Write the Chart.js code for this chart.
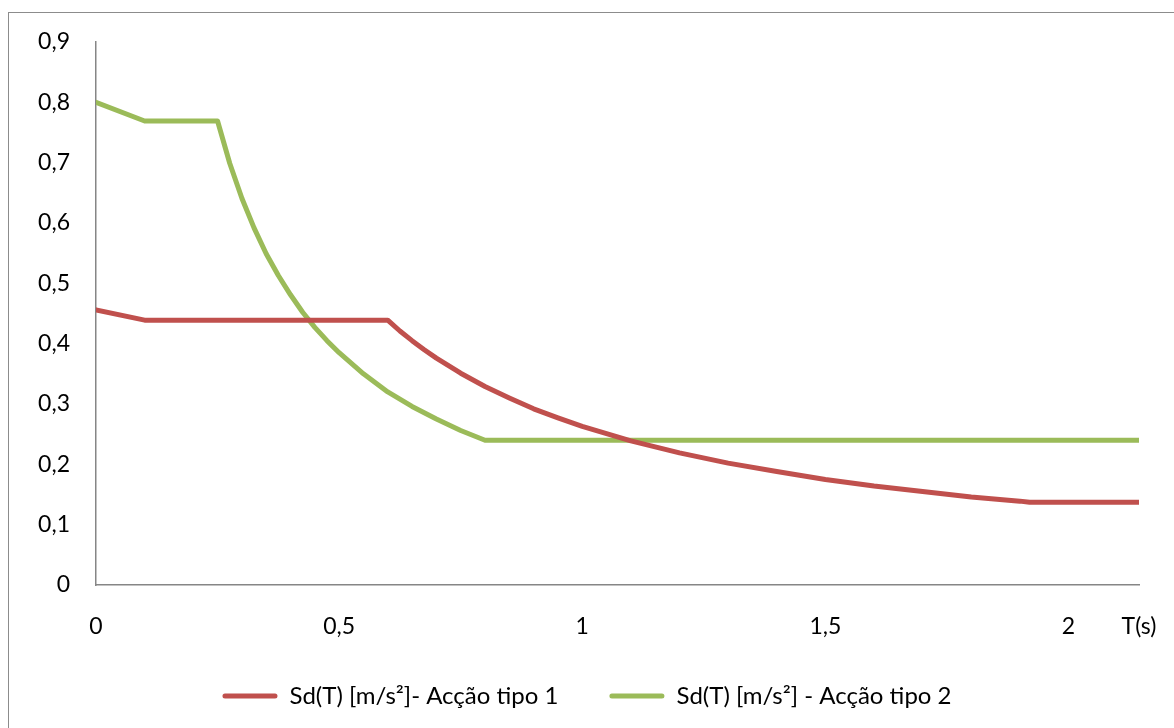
<!DOCTYPE html>
<html>
<head>
<meta charset="utf-8">
<script src="https://cdn.jsdelivr.net/npm/chart.js@4"></script>
<style>
  html, body { margin: 0; padding: 0; background: #fff; overflow: hidden; }
  .frame { position: absolute; left: 8px; top: 12px; width: 1300px; height: 900px; border: 1px solid #8c8c8c; }
  .chart { position: absolute; left: 0; top: 0; width: 1174px; height: 728px; }
</style>
</head>
<body>
<div class="frame"></div>
<div class="chart"><canvas id="myChart" width="1174" height="728"></canvas></div>
<script>
// periods T (s) and Sd(T) values
const tipo1T = [0, 0.1, 0.6, 0.625, 0.65, 0.675, 0.7, 0.75, 0.8, 0.85, 0.9, 0.95, 1.0, 1.1, 1.2, 1.3, 1.4, 1.5, 1.6, 1.7, 1.8, 1.9, 1.92, 2.145];
const tipo1Sd = [0.456, 0.439, 0.439, 0.421, 0.405, 0.390, 0.376, 0.351, 0.329, 0.310, 0.292, 0.277, 0.263, 0.239, 0.219, 0.202, 0.188, 0.175, 0.164, 0.155, 0.146, 0.139, 0.137, 0.137];

const tipo2T = [0, 0.1, 0.25, 0.275, 0.3, 0.325, 0.35, 0.375, 0.4, 0.425, 0.45, 0.475, 0.5, 0.55, 0.6, 0.65, 0.7, 0.75, 0.8, 2.145];
const tipo2Sd = [0.8, 0.769, 0.769, 0.699, 0.641, 0.592, 0.549, 0.513, 0.481, 0.452, 0.427, 0.405, 0.385, 0.350, 0.320, 0.296, 0.275, 0.256, 0.240, 0.240];

const seriesNames = ["Sd(T) [m/s²]- Acção tipo 1", "Sd(T) [m/s²] - Acção tipo 2"];
const xMax = 2.145;
const xTickStep = 0.5;
const yTickStep = 0.1;
const yMax = 0.9;

function toPoints(xs, ys) {
  return xs.map((x, i) => ({ x: x, y: ys[i] }));
}

function comma(v) {
  return String(Math.round(v * 10) / 10).replace(".", ",");
}

Chart.defaults.font.family = "Lato, 'Open Sans', sans-serif";
Chart.defaults.font.size = 23;
Chart.defaults.color = "#000";

const ctx = document.getElementById("myChart");
const myChart = new Chart(ctx, {
  type: "line",
  data: {
    datasets: [
      {
        label: seriesNames[0],
        data: toPoints(tipo1T, tipo1Sd),
        borderColor: "#C0504D",
        backgroundColor: "#C0504D",
        borderWidth: 5,
        pointRadius: 0,
        borderJoinStyle: "round",
        borderCapStyle: "round",
        tension: 0,
      },
      {
        label: seriesNames[1],
        data: toPoints(tipo2T, tipo2Sd),
        borderColor: "#9BBB59",
        backgroundColor: "#9BBB59",
        borderWidth: 5,
        pointRadius: 0,
        borderJoinStyle: "round",
        borderCapStyle: "round",
        tension: 0,
      },
    ],
  },
  options: {
    responsive: false,
    animation: false,
    layout: {
      padding: { top: 42, right: 0, bottom: 10, left: 0 },
    },
    plugins: {
      tooltip: { enabled: false },
      legend: {
        position: "bottom",
        labels: {
          font: { size: 24 },
          boxWidth: 55,
          boxHeight: 5,
          padding: 51,
          useBorderRadius: true,
          borderRadius: 2.5,
          generateLabels(chart) {
            return chart.data.datasets.map((ds, i) => ({
              text: ds.label,
              fillStyle: ds.borderColor,
              strokeStyle: ds.borderColor,
              lineWidth: 0,
              borderRadius: 2.5,
              datasetIndex: i,
              hidden: false,
            }));
          },
        },
      },
    },
    scales: {
      x: {
        type: "linear",
        min: 0,
        max: xMax,
        afterBuildTicks(scale) {
          const ticks = [];
          for (let v = 0; v <= 2; v += xTickStep) ticks.push({ value: v });
          ticks.push({ value: xMax });
          scale.ticks = ticks;
        },
        afterFit(scale) {
          scale.height = 48;
          scale.paddingLeft = 0;
          scale.paddingRight = 35;
          // labels sit a bit below the axis box, don't clip them
          scale._computeLabelArea = () => undefined;
        },
        ticks: {
          autoSkip: false,
          maxRotation: 0,
          padding: 28,
          callback(value) {
            return value === xMax ? "T(s)" : comma(value);
          },
        },
        grid: { display: false, drawTicks: false },
        border: { color: "#868686", width: 1.5 },
      },
      y: {
        min: 0,
        max: yMax,
        afterFit(scale) {
          scale.width = 96;
          scale.paddingTop = 0;
          scale.paddingBottom = 0;
        },
        ticks: {
          stepSize: yTickStep,
          padding: 26,
          callback(value) {
            return comma(value);
          },
        },
        grid: { display: false, drawTicks: false },
        border: { color: "#868686", width: 1.5 },
      },
    },
  },
});
</script>
</body>
</html>
